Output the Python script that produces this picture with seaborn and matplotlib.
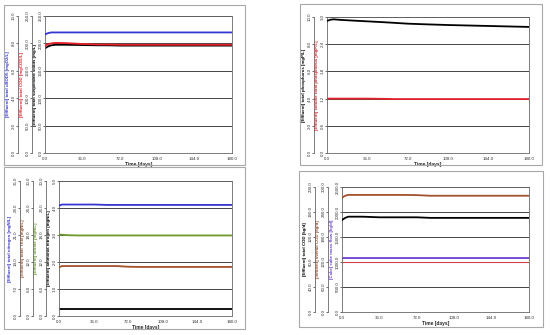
import matplotlib
matplotlib.use("Agg")
import matplotlib.pyplot as plt
import matplotlib.patches as patches
import numpy as np
import seaborn as sns

W, H = 550, 335

# time axis shared by all four panels
days = [0, 3, 6, 10, 20, 36, 50, 60, 72, 85, 108, 144, 180]
x_ticks = [0, 36, 72, 108, 144, 180]

# top-left: solids / organics
bod5 = [8.66, 8.75, 8.80, 8.80, 8.80, 8.80, 8.80, 8.80, 8.80, 8.80, 8.80, 8.80, 8.80]
cod = [195.5, 198.5, 200.0, 201.0, 200.5, 199.0, 198.0, 198.0, 197.5, 197.5, 197.5, 197.5, 197.5]
tss = [191.0, 194.5, 196.5, 197.5, 197.5, 197.0, 196.5, 196.5, 196.0, 196.0, 196.0, 196.0, 196.0]

# top-right: phosphorus
tp = [9.71, 9.80, 9.83, 9.80, 9.75, 9.68, 9.62, 9.57, 9.51, 9.47, 9.41, 9.34, 9.27]
stp = [1.20, 1.20, 1.20, 1.20, 1.20, 1.20, 1.195, 1.19, 1.19, 1.19, 1.19, 1.19, 1.19]

# bottom-left: nitrogen
tn = [28.6, 28.9, 28.9, 28.9, 28.9, 28.9, 28.8, 28.8, 28.8, 28.8, 28.8, 28.8, 28.8]
tkn = [10.8, 11.1, 11.1, 11.1, 11.1, 11.1, 11.1, 11.1, 10.95, 10.9, 10.9, 10.9, 10.9]
nitrate = [18.1, 18.05, 18.0, 17.95, 17.9, 17.9, 17.9, 17.9, 17.9, 17.9, 17.9, 17.9, 17.9]
ammonia = [0.26, 0.26, 0.26, 0.26, 0.26, 0.26, 0.26, 0.26, 0.26, 0.26, 0.26, 0.26, 0.26]

# bottom-right: COD loads and cake
cod_inf = [274.5, 279.0, 281.0, 281.0, 281.0, 281.0, 281.0, 281.0, 280.5, 279.0, 279.0, 279.0, 279.0]
cod_eff = [147.2, 150.5, 152.5, 152.5, 152.5, 151.5, 151.5, 151.5, 151.5, 150.6, 150.6, 150.6, 150.6]
cake = [1080, 1080, 1080, 1080, 1080, 1080, 1080, 1080, 1080, 1080, 1080, 1080, 1080]
cake_ref = [1000, 1000, 1000, 1000, 1000, 1000, 1000, 1000, 1000, 1000, 1000, 1000, 1000]

BLUE = "#3535d0"
RED = "#e8202a"
GREEN = "#6b9a2c"
BROWN = "#a0522d"
PURPLE = "#6a3fd0"

sns.set_style("white")
plt.rcParams["font.family"] = ["Liberation Sans", "DejaVu Sans"]
FS = 3.2

fig = plt.figure(figsize=(W / 100, H / 100), dpi=100)


def frame(l, t, r, b):
    fig.patches.append(patches.Rectangle((l / W, 1 - b / H), (r - l) / W, (b - t) / H,
                                         transform=fig.transFigure, fill=False,
                                         edgecolor="#a8a8a8", linewidth=0.8))


def style_y(ax, lim, step, label, color):
    ticks = np.arange(lim[0], lim[1] + step / 2, step)
    ax.set_ylim(lim)
    ax.set_yticks(ticks)
    ax.set_yticklabels(["%.1f" % v for v in ticks], fontsize=FS, rotation=90, va="center")
    ax.tick_params(axis="y", length=1.2, width=0.5, pad=0.6, colors="#333333")
    ax.set_ylabel(label, fontsize=FS, color=color, fontweight="bold", labelpad=0.8)


def host(l, t, r, b, lim, step, label, color):
    ax = fig.add_axes([l / W, 1 - b / H, (r - l) / W, (b - t) / H])
    ax.set_xlim(0, 180)
    ax.set_xticks(x_ticks)
    ax.set_xticklabels(["%.1f" % v for v in x_ticks], fontsize=FS)
    ax.tick_params(axis="x", length=1.2, width=0.5, pad=1.5, colors="#333333")
    ax.set_xlabel("Time [days]", fontsize=FS + 0.3, fontweight="bold", labelpad=1)
    style_y(ax, lim, step, label, color)
    ax.yaxis.grid(True, color="#444444", linewidth=0.7)
    for s in ax.spines.values():
        s.set_color("#666666")
        s.set_linewidth(0.6)
    return ax


def extra(ax, offset_px, lim, step, label, color):
    tw = ax.twinx()
    for side in ["right", "top", "bottom"]:
        tw.spines[side].set_visible(False)
    tw.spines["left"].set_visible(True)
    tw.spines["left"].set_position(("outward", offset_px * 0.72))
    tw.spines["left"].set_color("#666666")
    tw.spines["left"].set_linewidth(0.6)
    tw.yaxis.set_ticks_position("left")
    tw.yaxis.set_label_position("left")
    style_y(tw, lim, step, label, color)
    tw.grid(False)
    return tw


def line(ax, y, color, lw=1.3):
    sns.lineplot(x=days, y=y, ax=ax, color=color, linewidth=lw)
    ax.set_xlim(0, 180)


frame(4, 5, 245, 165)
frame(300, 4, 542, 165)
frame(4, 167, 245, 329)
frame(299, 171, 543, 327)

# panel 1
a1 = host(45, 16, 232, 153, (0, 250), 50, "[Effluent] total suspended solids [mg/L]", "black")
a1r = extra(a1, 13, (0, 250), 50, "[Effluent] total COD [mgCOD/L]", RED)
a1b = extra(a1, 27, (0, 10), 2, "[Effluent] total cBOD5 [mgO2/L]", BLUE)
line(a1, tss, "black")
line(a1r, cod, RED)
line(a1b, bod5, BLUE)

# panel 2
a2 = host(327, 17, 529, 153, (0, 3.0), 0.6, "[Effluent] soluble total phosphorus [mgP/L]", RED)
a2k = extra(a2, 13, (0, 10), 2, "[Effluent] total phosphorus [mgP/L]", "black")
line(a2, stp, RED)
line(a2k, tp, "black")

# panel 3
a3 = host(59, 181, 232, 316, (0, 5.0), 1.0, "[Effluent] ammonia nitrogen [mgN/L]", "black")
a3g = extra(a3, 13, (0, 30), 6, "[Effluent] nitrate [mgN/L]", GREEN)
a3r = extra(a3, 26, (0, 30), 6, "[Effluent] total TKN [mgN/L]", BROWN)
a3b = extra(a3, 39, (0, 35), 7, "[Effluent] total nitrogen [mgN/L]", BLUE)
line(a3, ammonia, "black")
line(a3g, nitrate, GREEN)
line(a3r, tkn, BROWN)
line(a3b, tn, BLUE)

# panel 4
a4 = host(342, 187, 529, 312, (0, 2500), 500, "[Cake] cake mass flow [kg/d]", PURPLE)
a4r = extra(a4, 14, (0, 300), 60, "[Influent] overall COD [kg/d]", BROWN)
a4k = extra(a4, 27, (0, 200), 40, "[Effluent] total COD [kg/d]", "black")
line(a4, cake_ref, "#d04040", lw=0.8)
line(a4, cake, PURPLE)
line(a4r, cod_inf, BROWN)
line(a4k, cod_eff, "black")

fig.savefig("out.png", dpi=100)
